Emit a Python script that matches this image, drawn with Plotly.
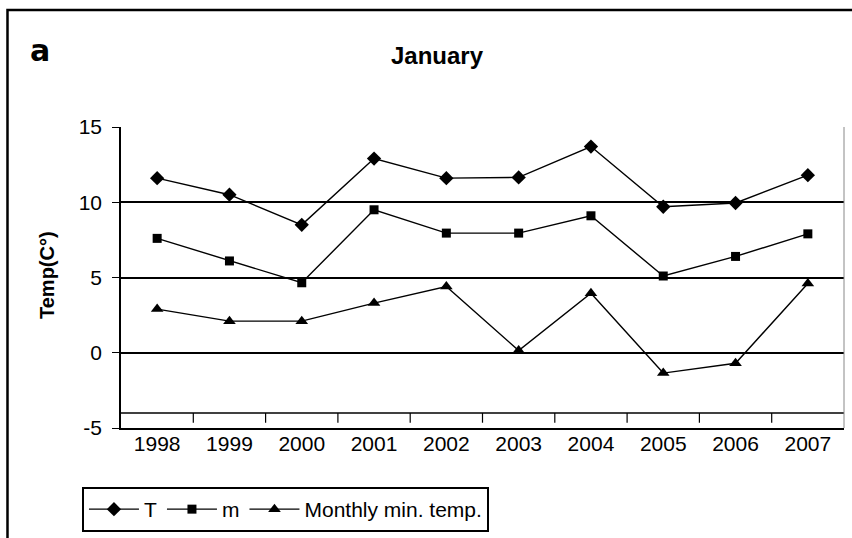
import plotly.graph_objects as go

years = ["1998", "1999", "2000", "2001", "2002", "2003", "2004", "2005", "2006", "2007"]
t_vals = [11.6, 10.5, 8.5, 12.9, 11.6, 11.65, 13.7, 9.7, 9.95, 11.8]
m_vals = [7.6, 6.1, 4.65, 9.5, 7.95, 7.95, 9.1, 5.1, 6.4, 7.9]
min_vals = [2.9, 2.1, 2.1, 3.3, 4.4, 0.15, 3.95, -1.35, -0.7, 4.6]
y_ticks = [-5, 0, 5, 10, 15]
y_tick_labels = ["-5", "0", "5", "10", "15"]

FONT = "Liberation Sans, Arial, sans-serif"

fig = go.Figure()
series = [("T", t_vals, "diamond", 11), ("m", m_vals, "square", 9), ("Monthly min. temp.", min_vals, "triangle-up", 11)]
for name, vals, sym, sz in series:
    fig.add_trace(go.Scatter(
        x=years, y=vals, name=name, mode="lines+markers",
        line=dict(color="black", width=1.4),
        marker=dict(symbol=sym, size=sz, color="black"),
    ))

shapes = []
# secondary baseline at -4 with category separators
shapes.append(dict(type="line", xref="paper", yref="y", x0=0, x1=1, y0=-4, y1=-4,
                   line=dict(color="black", width=1.5)))
for i in range(len(years) - 1):
    shapes.append(dict(type="line", xref="x", yref="y", x0=i + 0.5, x1=i + 0.5, y0=-4, y1=-4.65,
                       line=dict(color="black", width=1.2)))
# right border of plot area
shapes.append(dict(type="line", xref="paper", yref="paper", x0=1, x1=1, y0=0, y1=1,
                   line=dict(color="#888888", width=1)))
# outer chart border
shapes.append(dict(type="rect", xref="paper", yref="paper", x0=-0.157, x1=1.02, y0=-0.45, y1=1.389,
                   line=dict(color="black", width=2.5)))

fig.update_layout(
    width=852, height=538,
    margin=dict(l=121, r=8, t=127, b=110, autoexpand=False),
    paper_bgcolor="white", plot_bgcolor="white",
    font=dict(family=FONT, color="black", size=20),
    showlegend=True,
    legend=dict(orientation="h", x=-0.054, y=-0.196, xanchor="left", yanchor="top",
                bordercolor="black", borderwidth=2, font=dict(size=21),
                itemwidth=50, tracegroupgap=0),
    xaxis=dict(type="category", range=[-0.5, 9.5], showgrid=False, showline=True,
               linecolor="black", linewidth=1.5, ticks="", tickfont=dict(size=21),
               zeroline=False, fixedrange=True, automargin=False, ticklabelstandoff=-4),
    yaxis=dict(range=[-5, 15], tickvals=y_ticks, ticktext=y_tick_labels, showgrid=True,
               gridcolor="black", gridwidth=1.5,
               showline=True, linecolor="black", linewidth=1.5, ticks="outside", ticklen=7,
               tickcolor="black", zeroline=False, tickfont=dict(size=21), automargin=False,
               ticklabelstandoff=6, fixedrange=True),
    shapes=shapes,
    annotations=[
        dict(text="<b>January</b>", xref="paper", yref="paper", x=(437 - 121) / 723, y=(428 - 55) / 301,
             showarrow=False, font=dict(size=24), xanchor="center", yanchor="middle"),
        dict(text="<b>a</b>", xref="paper", yref="paper", x=(40 - 121) / 723, y=(428 - 50) / 301,
             showarrow=False, font=dict(size=30, family="DejaVu Sans"), xanchor="center", yanchor="middle"),
        dict(text="<b>Temp(C°)</b>", xref="paper", yref="paper", x=(47 - 121) / 723, y=(428 - 275) / 301,
             showarrow=False, textangle=-90, font=dict(size=20), xanchor="center", yanchor="middle"),
    ],
)

fig.write_html("out.html", config={"displayModeBar": False},
               post_script="document.body.style.margin='0';document.body.style.overflow='hidden';")
